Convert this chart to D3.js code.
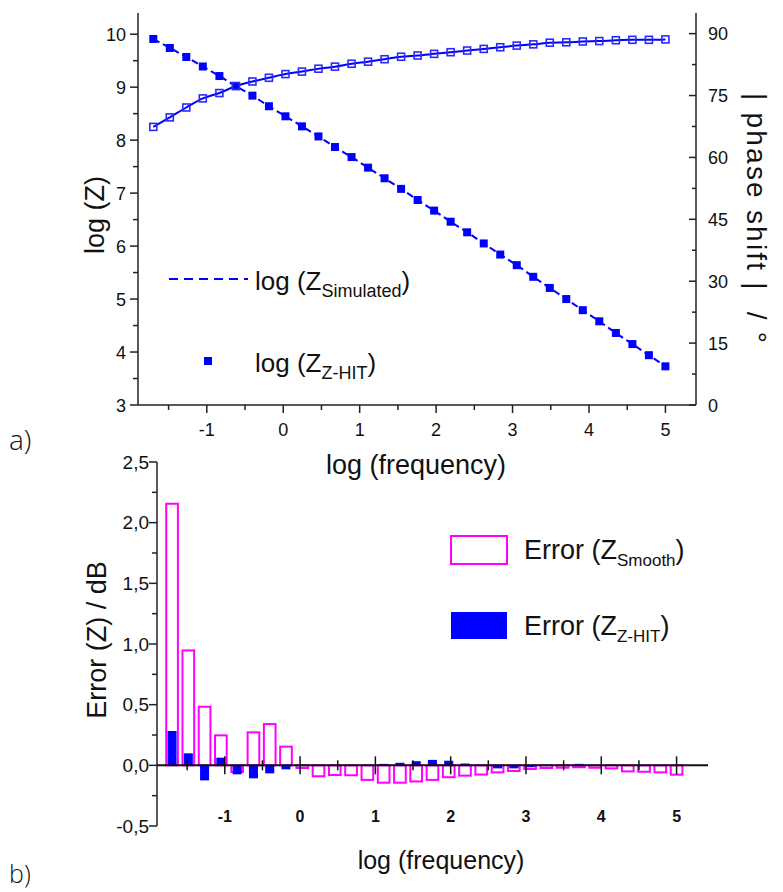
<!DOCTYPE html>
<html>
<head>
<meta charset="utf-8">
<script src="https://cdn.jsdelivr.net/npm/d3@7"></script>
<style>
  html, body { margin: 0; padding: 0; background: #fff; }
  svg { display: block; font-family: "Liberation Sans", Arial, sans-serif; }
</style>
</head>
<body>
<svg id="chart" width="783" height="892"></svg>
<script>
// ---------------- DATA ----------------
const freq = [-1.70, -1.484, -1.268, -1.052, -0.835, -0.619, -0.403, -0.187, 0.029, 0.245,
  0.461, 0.677, 0.894, 1.110, 1.326, 1.542, 1.758, 1.974, 2.190, 2.406,
  2.623, 2.839, 3.055, 3.271, 3.487, 3.703, 3.919, 4.135, 4.352, 4.568, 4.784, 5.000];
const logZ = [9.91, 9.74, 9.57, 9.39, 9.21, 9.02, 8.84, 8.64, 8.45, 8.26,
  8.07, 7.87, 7.68, 7.48, 7.28, 7.08, 6.87, 6.67, 6.46, 6.26,
  6.05, 5.84, 5.64, 5.42, 5.21, 5.00, 4.79, 4.58, 4.36, 4.15, 3.94, 3.73];
const phaseDeg = [67.4, 69.7, 72.1, 74.3, 75.6, 77.3, 78.4, 79.3, 80.2, 80.8,
  81.5, 82.0, 82.7, 83.2, 83.8, 84.4, 84.7, 85.1, 85.5, 85.9,
  86.3, 86.7, 87.1, 87.4, 87.8, 87.9, 88.1, 88.2, 88.4, 88.5, 88.5, 88.6];
const errSmooth = [2.156, 0.947, 0.483, 0.247, -0.055, 0.272, 0.340, 0.154, -0.022, -0.090,
  -0.080, -0.082, -0.120, -0.143, -0.143, -0.133, -0.120, -0.098, -0.085, -0.076,
  -0.058, -0.047, -0.030, -0.022, -0.020, -0.016, -0.020, -0.025, -0.050, -0.053, -0.058, -0.077];
const errZHIT = [0.283, 0.099, -0.124, 0.063, -0.074, -0.107, -0.066, -0.033, -0.006, 0.000,
  0.000, 0.002, 0.004, 0.012, 0.021, 0.034, 0.045, 0.038, 0.015, 0.003,
  -0.025, -0.025, -0.016, -0.003, 0.002, 0.012, 0.002, 0.000, 0.000, 0.000, 0.000, 0.000];
const freqTicks = [-1, 0, 1, 2, 3, 4, 5];
const freqMinor = [-1.5, -0.5, 0.5, 1.5, 2.5, 3.5, 4.5];
const logZTicks = [3, 4, 5, 6, 7, 8, 9, 10];
const logZMinor = [3.5, 4.5, 5.5, 6.5, 7.5, 8.5, 9.5];
const phaseTicks = [0, 15, 30, 45, 60, 75, 90];
const phaseMinor = [7.5, 22.5, 37.5, 52.5, 67.5, 82.5];
const errTicks = [-0.5, 0, 0.5, 1.0, 1.5, 2.0, 2.5];
const errMinor = [-0.25, 0.25, 0.75, 1.25, 1.75, 2.25];

const BLUE = "#0000ff", MAG = "#ff00ff", AX = "#222";
const svg = d3.select("#chart");
const hy = s => String(s).replace("\u2212", "-");

// ---------------- TOP CHART ----------------
const xT = d3.scaleLinear().domain([-1.9, 5.4]).range([138, 696]);
const yL = d3.scaleLinear().domain([3, 10.4]).range([405, 13]);
const yR = d3.scaleLinear().domain([0, 95]).range([405, 13]);

const gT = svg.append("g");
gT.append("line").attr("x1", 138).attr("x2", 138).attr("y1", yL.range()[1]).attr("y2", 405).attr("stroke", AX).attr("stroke-width", 1.5);
gT.append("line").attr("x1", 696).attr("x2", 696).attr("y1", yR.range()[1]).attr("y2", 405).attr("stroke", AX).attr("stroke-width", 1.5);
gT.append("line").attr("x1", 138).attr("x2", 696).attr("y1", 405).attr("y2", 405).attr("stroke", AX).attr("stroke-width", 1.5);

gT.selectAll(".xtM").data(freqTicks).join("line").attr("x1", d => xT(d)).attr("x2", d => xT(d))
  .attr("y1", 405).attr("y2", 413).attr("stroke", AX).attr("stroke-width", 1.5);
gT.selectAll(".xtm").data(freqMinor).join("line").attr("x1", d => xT(d)).attr("x2", d => xT(d))
  .attr("y1", 405).attr("y2", 410).attr("stroke", AX).attr("stroke-width", 1.5);
gT.selectAll(".xtl").data(freqTicks).join("text").attr("x", d => xT(d)).attr("y", 436)
  .attr("text-anchor", "middle").attr("font-size", 18).attr("fill", "#111").text(d => hy(d3.format("d")(d)));

gT.selectAll(".ylM").data(logZTicks).join("line").attr("x1", 130).attr("x2", 138)
  .attr("y1", d => yL(d)).attr("y2", d => yL(d)).attr("stroke", AX).attr("stroke-width", 1.5);
gT.selectAll(".ylm").data(logZMinor).join("line").attr("x1", 133).attr("x2", 138)
  .attr("y1", d => yL(d)).attr("y2", d => yL(d)).attr("stroke", AX).attr("stroke-width", 1.5);
gT.selectAll(".yll").data(logZTicks).join("text").attr("x", 126).attr("y", d => yL(d) + 6.5)
  .attr("text-anchor", "end").attr("font-size", 18).attr("fill", "#111").text(d => d);

gT.selectAll(".yrM").data(phaseTicks).join("line").attr("x1", 689).attr("x2", 696)
  .attr("y1", d => yR(d)).attr("y2", d => yR(d)).attr("stroke", AX).attr("stroke-width", 1.5);
gT.selectAll(".yrm").data(phaseMinor).join("line").attr("x1", 692).attr("x2", 696)
  .attr("y1", d => yR(d)).attr("y2", d => yR(d)).attr("stroke", AX).attr("stroke-width", 1.5);
gT.selectAll(".yrl").data(phaseTicks).join("text").attr("x", 708).attr("y", d => yR(d) + 6.5)
  .attr("text-anchor", "start").attr("font-size", 18).attr("fill", "#111").text(d => d);

// titles
gT.append("text").attr("transform", "translate(104,215) rotate(-90)").attr("text-anchor", "middle")
  .attr("font-size", 27).attr("fill", "#111").text("log (Z)");
gT.append("text").attr("transform", "translate(747,218) rotate(90)").attr("text-anchor", "middle")
  .attr("font-size", 28).attr("fill", "#111").attr("xml:space", "preserve")
  .attr("textLength", 250).attr("lengthAdjust", "spacing").text("| phase shift |  / \u00B0");
gT.append("text").attr("x", 416).attr("y", 474).attr("text-anchor", "middle")
  .attr("font-size", 27).attr("fill", "#111").text("log (frequency)");
svg.append("text").attr("x", 9).attr("y", 450).attr("font-family", "'Open Sans', 'Liberation Sans', sans-serif")
  .attr("font-size", 28).attr("font-weight", 300).attr("fill", "#111").text("a)");

// series
const pts = freq.map((f, i) => ({ f, z: logZ[i], p: phaseDeg[i] }));
gT.append("path").datum(pts).attr("fill", "none").attr("stroke", BLUE).attr("stroke-width", 2)
  .attr("stroke-dasharray", "7,4")
  .attr("d", d3.line().x(d => xT(d.f)).y(d => yL(d.z)).curve(d3.curveMonotoneX));
gT.append("path").datum(pts).attr("fill", "none").attr("stroke", BLUE).attr("stroke-width", 2)
  .attr("d", d3.line().x(d => xT(d.f)).y(d => yR(d.p)).curve(d3.curveMonotoneX));
gT.selectAll(".ms").data(pts).join("rect").attr("x", d => xT(d.f) - 4).attr("y", d => yL(d.z) - 4)
  .attr("width", 8).attr("height", 8).attr("fill", BLUE);
gT.selectAll(".mo").data(pts).join("rect").attr("x", d => xT(d.f) - 3.5).attr("y", d => yR(d.p) - 3.5)
  .attr("width", 7).attr("height", 7).attr("fill", "none").attr("stroke", "#2a2aff").attr("stroke-width", 1.6);

// legend top
gT.append("line").attr("x1", 169).attr("x2", 248).attr("y1", 279).attr("y2", 279)
  .attr("stroke", BLUE).attr("stroke-width", 2).attr("stroke-dasharray", "9,6");
const lt1 = gT.append("text").attr("x", 255).attr("y", 290).attr("font-size", 26).attr("fill", "#111");
lt1.append("tspan").text("log (Z");
lt1.append("tspan").attr("font-size", 18).attr("dy", 7).text("Simulated");
lt1.append("tspan").attr("dy", -7).text(")");
gT.append("rect").attr("x", 204).attr("y", 357).attr("width", 8).attr("height", 8).attr("fill", BLUE);
const lt2 = gT.append("text").attr("x", 255).attr("y", 372).attr("font-size", 26).attr("fill", "#111");
lt2.append("tspan").text("log (Z");
lt2.append("tspan").attr("font-size", 18).attr("dy", 7).text("Z-HIT");
lt2.append("tspan").attr("dy", -7).text(")");

// ---------------- BOTTOM CHART ----------------
const xB = d3.scaleLinear().domain([-1.9, 5.4]).range([157, 706.7]);
const yB = d3.scaleLinear().domain([-0.5, 2.5]).range([826, 462]);
const gB = svg.append("g");
const bars = freq.map((f, i) => ({ f, s: errSmooth[i], h: errZHIT[i] }));
const wS = xB(0.155) - xB(0), wH = xB(0.12) - xB(0);

gB.selectAll(".bs").data(bars).join("rect")
  .attr("x", d => xB(d.f) - wS / 2).attr("width", wS)
  .attr("y", d => yB(Math.max(0, d.s))).attr("height", d => Math.abs(yB(d.s) - yB(0)))
  .attr("fill", "none").attr("stroke", MAG).attr("stroke-width", 2);
gB.selectAll(".bh").data(bars).join("rect")
  .attr("x", d => xB(d.f) - wH / 2).attr("width", wH)
  .attr("y", d => yB(Math.max(0, d.h))).attr("height", d => Math.abs(yB(d.h) - yB(0)))
  .attr("fill", BLUE);

gB.append("line").attr("x1", 157).attr("x2", 157).attr("y1", yB(2.5)).attr("y2", yB(-0.5)).attr("stroke", AX).attr("stroke-width", 1.5);
gB.selectAll(".ebM").data(errTicks).join("line").attr("x1", 149).attr("x2", 157)
  .attr("y1", d => yB(d)).attr("y2", d => yB(d)).attr("stroke", AX).attr("stroke-width", 1.5);
gB.selectAll(".ebm").data(errMinor).join("line").attr("x1", 152).attr("x2", 157)
  .attr("y1", d => yB(d)).attr("y2", d => yB(d)).attr("stroke", AX).attr("stroke-width", 1.5);
gB.selectAll(".ebl").data(errTicks).join("text").attr("x", 149).attr("y", d => yB(d) + 6.5)
  .attr("text-anchor", "end").attr("font-size", 19).attr("fill", "#111")
  .text(d => hy(d3.format(".1f")(d)).replace(".", ","));

gB.append("line").attr("x1", 157).attr("x2", 708).attr("y1", yB(0)).attr("y2", yB(0)).attr("stroke", "#111").attr("stroke-width", 2);
gB.selectAll(".zM").data(freqTicks).join("line").attr("x1", d => xB(d)).attr("x2", d => xB(d))
  .attr("y1", yB(0) - 9).attr("y2", yB(0) + 9).attr("stroke", "#111").attr("stroke-width", 1.5);
gB.selectAll(".zm").data(freqMinor).join("line").attr("x1", d => xB(d)).attr("x2", d => xB(d))
  .attr("y1", yB(0) - 5).attr("y2", yB(0) + 5).attr("stroke", "#111").attr("stroke-width", 1.5);
gB.selectAll(".zl").data(freqTicks).join("text").attr("x", d => xB(d)).attr("y", 822)
  .attr("text-anchor", "middle").attr("font-size", 16).attr("font-weight", "bold").attr("fill", "#111")
  .text(d => hy(d3.format("d")(d)));

gB.append("text").attr("transform", "translate(106,640) rotate(-90)").attr("text-anchor", "middle")
  .attr("font-size", 27).attr("fill", "#111").text("Error (Z) / dB");
gB.append("text").attr("x", 441).attr("y", 869).attr("text-anchor", "middle")
  .attr("font-size", 25).attr("fill", "#111").text("log (frequency)");
svg.append("text").attr("x", 9).attr("y", 883).attr("font-family", "'Open Sans', 'Liberation Sans', sans-serif")
  .attr("font-size", 25).attr("font-weight", 300).attr("fill", "#111").text("b)");

// legend bottom
gB.append("rect").attr("x", 451).attr("y", 536).attr("width", 56).attr("height", 28)
  .attr("fill", "none").attr("stroke", MAG).attr("stroke-width", 2);
const lb1 = gB.append("text").attr("x", 524).attr("y", 559).attr("font-size", 27).attr("fill", "#111");
lb1.append("tspan").text("Error (Z");
lb1.append("tspan").attr("font-size", 17).attr("dy", 7).text("Smooth");
lb1.append("tspan").attr("dy", -7).text(")");
gB.append("rect").attr("x", 451).attr("y", 612).attr("width", 56).attr("height", 27).attr("fill", BLUE);
const lb2 = gB.append("text").attr("x", 524).attr("y", 635).attr("font-size", 27).attr("fill", "#111");
lb2.append("tspan").text("Error (Z");
lb2.append("tspan").attr("font-size", 17).attr("dy", 7).text("Z-HIT");
lb2.append("tspan").attr("dy", -7).text(")");
</script>
</body>
</html>
